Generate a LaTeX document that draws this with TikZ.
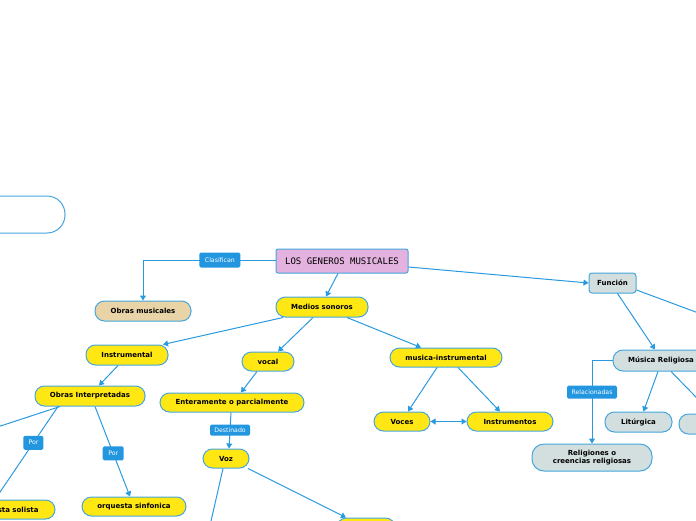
\documentclass[tikz,border=0pt]{standalone}
\usepackage{fontspec}
\setmainfont{DejaVu Sans}
\newfontfamily\titlefont{DejaVu Sans Mono}
\usetikzlibrary{arrows.meta}
\definecolor{linea}{HTML}{2A9AE0}
\definecolor{borde}{HTML}{45A6DE}
\definecolor{amarillo}{HTML}{FFE714}
\definecolor{rosa}{HTML}{E3B2DF}
\definecolor{arena}{HTML}{E8D4A7}
\definecolor{gris}{HTML}{D3DEDE}
\definecolor{etiqueta}{HTML}{2396E0}
\tikzset{
  tema/.style={draw=borde,line width=1pt,fill=amarillo,rounded corners=9.5pt,
    font=\bfseries\fontsize{7}{8}\selectfont,inner sep=0pt,minimum height=19pt},
  temagris/.style={tema,fill=gris},
  etq/.style={fill=etiqueta,text=white,rounded corners=1.5pt,inner sep=0pt,
    font=\fontsize{6.2}{7}\selectfont,minimum height=13pt},
  con/.style={draw=linea,line width=1pt,-{Triangle[length=5pt,width=6pt]}},
  conlibre/.style={draw=linea,line width=1pt}
}
\begin{document}
\begin{tikzpicture}[x=1pt,y=-1pt]
  \useasboundingbox (0,0) rectangle (696,520);
  \clip (0,0) rectangle (696,520);
  % ramas que salen del recorte
  \node[tema,fill=white,rounded corners=18pt,minimum width=125pt,minimum height=37pt] (vacio) at (2.5,214.5) {};
  \node[draw=borde,line width=1pt,fill=rosa,rounded corners=2pt,minimum width=132pt,minimum height=24pt,
    font=\titlefont\fontsize{9}{10}\selectfont] (generos) at (342,261) {LOS GENEROS MUSICALES};
  \node[tema,fill=arena,minimum width=96pt,minimum height=20pt] (obrasmus) at (143,311) {Obras musicales};
  \node[tema,minimum width=92pt,minimum height=20pt] (medios) at (322,307) {Medios sonoros};
  \node[temagris,rounded corners=3pt,minimum width=47pt,minimum height=20pt] (funcion) at (612.5,283) {Función};
  \node[temagris,rounded corners=10pt,minimum width=96pt,minimum height=21pt] (religiosa) at (661,360.5) {Música Religiosa};
  \node[temagris,rounded corners=12pt,minimum width=120pt,minimum height=27pt,align=center] (religiones) at (592,457.5) {Religiones o\\creencias religiosas};
  \node[temagris,minimum width=67pt,minimum height=20pt] (liturgica) at (638.5,422) {Litúrgica};
  \node[temagris,minimum width=66pt,minimum height=20pt] (otrafuncion) at (712,424) {};
  \node[tema,minimum width=82pt,minimum height=20pt] (instrumental) at (127,355) {Instrumental};
  \node[tema,minimum width=52pt] (vocal) at (268,361.5) {vocal};
  \node[tema,minimum width=112pt] (musinst) at (446,357.5) {musica-instrumental};
  \node[tema,minimum width=110pt,minimum height=20pt] (obrasint) at (90,396) {Obras Interpretadas};
  \node[tema,minimum width=120pt] (solista) at (-5,509.5) {Instrumentista solista};
  \node[tema,minimum width=104pt] (sinfonica) at (134,506.5) {orquesta sinfonica};
  \node[tema,minimum width=144pt] (enteramente) at (232,402.5) {Enteramente o parcialmente};
  \node[tema,minimum width=46pt] (voz) at (226,458.5) {Voz};
  \node[tema,minimum width=58pt,minimum height=20pt] (voztipo) at (366,528) {};
  \node[tema,minimum width=56pt] (voces) at (402,421.5) {Voces};
  \node[tema,minimum width=86pt] (instrumentos) at (510,421.5) {Instrumentos};
  \coordinate (fueraA) at (720,321);
  \coordinate (fueraB) at (-30,436);
  \coordinate (fueraC) at (209,530);
  % conectores
  \draw[con] ([yshift=1pt]generos.west) -| node[etq,minimum width=41pt,minimum height=15pt,pos=0.21] {Clasifican} (obrasmus.north);
  \draw[con] ([xshift=-4pt]generos.south) -- ([xshift=4pt]medios.north);
  \draw[con] ([yshift=-6pt]generos.east) -- (funcion.west);
  \draw[conlibre] ([yshift=-7pt]funcion.east) -- (fueraA);
  \draw[con] ([xshift=5pt]funcion.south) -- ([xshift=-6pt]religiosa.north);
  \draw[con] (religiosa.west) -| node[etq,minimum width=50pt,pos=0.69] {Relacionadas} (religiones.north);
  \draw[con] ([xshift=-3pt]religiosa.south) -- ([xshift=5pt]liturgica.north);
  \draw[con] ([xshift=10pt]religiosa.south) -- (otrafuncion.north);
  \draw[con] ([xshift=-39pt]medios.south) -- ([xshift=36pt]instrumental.north);
  \draw[con] ([xshift=-9pt]medios.south) -- ([xshift=10pt]vocal.north);
  \draw[con] ([xshift=25pt]medios.south) -- ([xshift=-25pt]musinst.north);
  \draw[con] ([xshift=-9pt]instrumental.south) -- ([xshift=9pt]obrasint.north);
  \draw[conlibre] ([xshift=-30pt]obrasint.south) -- (fueraB);
  \draw[con] ([xshift=-32pt]obrasint.south) -- node[etq,minimum width=20pt,minimum height=14pt,pos=0.39] {Por} (solista.north);
  \draw[con] ([xshift=5pt]obrasint.south) -- node[etq,minimum width=21pt,minimum height=14pt,pos=0.52] {Por} ([xshift=-4pt]sinfonica.north);
  \draw[con] ([xshift=-11pt]vocal.south) -- ([xshift=9pt]enteramente.north);
  \draw[con] ([xshift=-1pt]enteramente.south) -- node[etq,minimum width=40pt,minimum height=11pt,pos=0.49] {Destinado} ([xshift=3pt]voz.north);
  \draw[conlibre] ([xshift=-3pt]voz.south) -- (fueraC);
  \draw[con] ([xshift=22pt]voz.south) -- ([xshift=-20pt]voztipo.north);
  \draw[con] ([xshift=-9pt]musinst.south) -- ([xshift=6pt]voces.north);
  \draw[con] ([xshift=12pt]musinst.south) -- ([xshift=-10pt]instrumentos.north);
  \draw[con,{Triangle[length=5pt,width=6pt]}-{Triangle[length=5pt,width=6pt]}] (voces.east) -- (instrumentos.west);
\end{tikzpicture}
\end{document}
